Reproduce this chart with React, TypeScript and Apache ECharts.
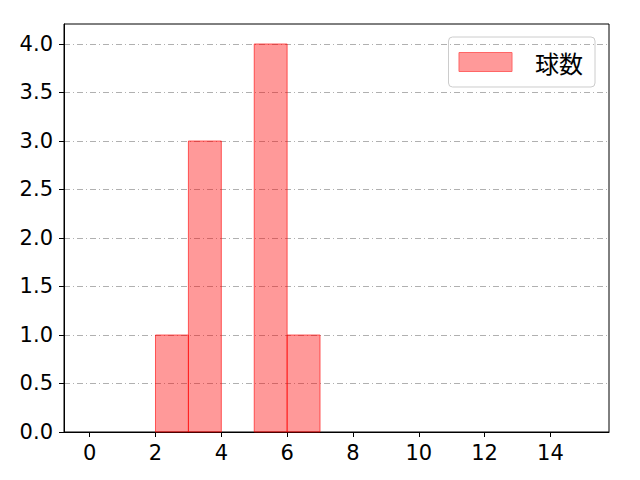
import React, { useEffect, useRef } from 'react'
import * as echarts from 'echarts'

const binStarts = [2, 3, 4, 5, 6]
const binEnds = [3, 4, 5, 6, 7]
const counts = [1, 3, 0, 4, 1]
const xTicks = [0, 2, 4, 6, 8, 10, 12, 14]
const yTicks = [0, 0.5, 1, 1.5, 2, 2.5, 3, 3.5, 4]
const seriesName = '球数'

const FONT = '"DejaVu Sans", "Noto Sans CJK JP", sans-serif'
const CJK = '"Noto Sans CJK JP", sans-serif'

export default function App() {
  const ref = useRef<HTMLDivElement | null>(null)

  useEffect(() => {
    if (!ref.current) return
    const chart = echarts.init(ref.current, undefined, { renderer: 'svg' })

    const data = binStarts.map((s, i) => [s, binEnds[i], counts[i]])

    const opt: echarts.EChartsOption = {
      animation: false,
      textStyle: { fontFamily: FONT },
      grid: {
        left: 64, right: 31, top: 24, bottom: 48,
        show: true, borderColor: '#000', borderWidth: 1, backgroundColor: 'transparent'
      },
      legend: {
        right: 45, top: 37,
        padding: [13, 12, 13, 10],
        borderColor: '#cccccc', borderWidth: 1, borderRadius: 4,
        itemWidth: 53, itemHeight: 19,
        textStyle: { fontSize: 24, color: '#000', fontFamily: CJK, padding: [0, 0, 0, 18] },
        data: [{ name: seriesName, icon: 'rect', itemStyle: { color: '#ff9999', borderColor: '#ff6666', borderWidth: 1 } }]
      },
      xAxis: {
        type: 'value', min: -0.78, max: 15.78,
        axisLine: { show: true, onZero: false, lineStyle: { color: '#000', width: 1 } },
        axisTick: { show: true, length: 5, lineStyle: { color: '#000' }, customValues: xTicks },
        axisLabel: { fontSize: 21, color: '#000', margin: 10, customValues: xTicks, fontFamily: FONT },
        splitLine: { show: false }
      },
      yAxis: {
        type: 'value', min: 0, max: 4.206, interval: 0.5,
        axisLine: { show: true, onZero: false, lineStyle: { color: '#000', width: 1 } },
        axisTick: { show: true, length: 5, lineStyle: { color: '#000' }, customValues: yTicks },
        axisLabel: {
          fontSize: 21, color: '#000', margin: 11, customValues: yTicks, fontFamily: FONT,
          formatter: (v: number) => v.toFixed(1)
        },
        splitLine: { show: true, lineStyle: { color: '#b0b0b0', width: 1, type: [6, 3, 1, 3] } }
      },
      series: [{
        type: 'custom',
        name: seriesName,
        data,
        encode: { x: [0, 1], y: 2 },
        renderItem: (params: any, api: any) => {
          const x0 = api.value(0)
          const x1 = api.value(1)
          const h = api.value(2)
          if (!h) return null
          const p0 = api.coord([x0, h])
          const p1 = api.coord([x1, 0])
          return {
            type: 'rect',
            shape: { x: p0[0], y: p0[1], width: p1[0] - p0[0], height: p1[1] - p0[1] },
            style: { fill: 'rgba(255,0,0,0.4)', stroke: 'rgba(255,0,0,0.6)', lineWidth: 1 }
          }
        },
        itemStyle: { color: '#ff9999' }
      }]
    }

    chart.setOption(opt)
    return () => { chart.dispose() }
  }, [])

  return <div ref={ref} style={{ width: 640, height: 480, margin: -8 }} />
}
